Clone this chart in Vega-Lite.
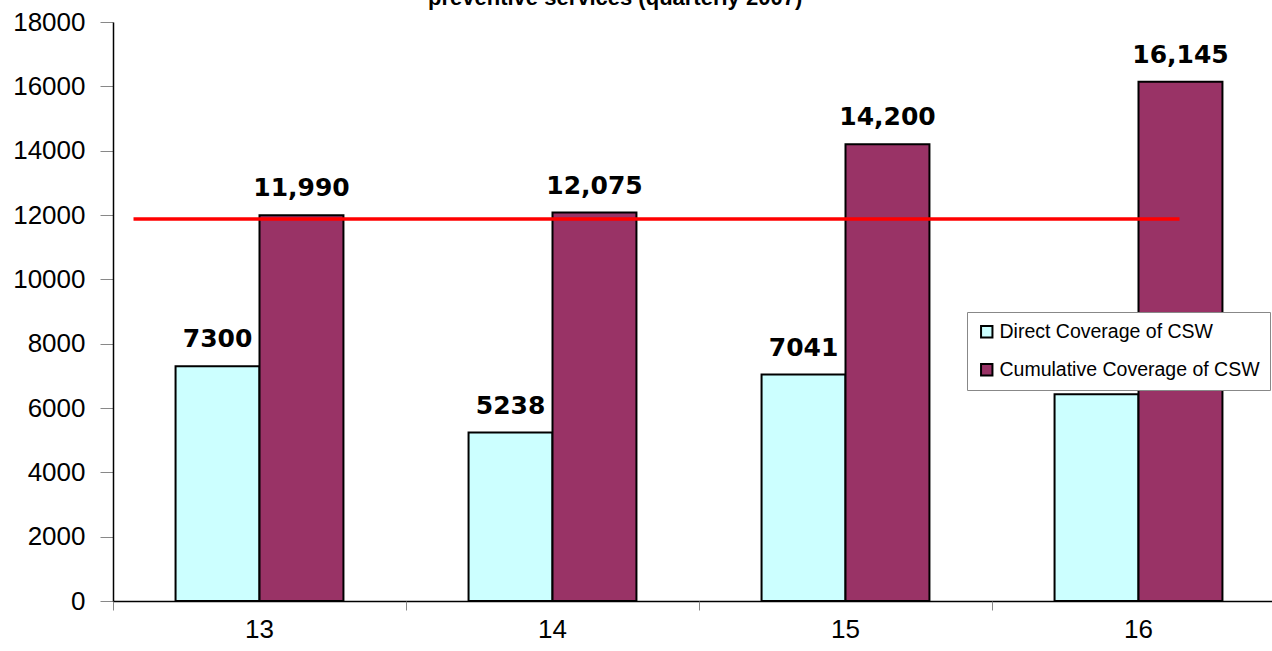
{
  "$schema": "https://vega.github.io/schema/vega-lite/v6.json",
  "autosize": {"type": "none"},
  "width": 1159,
  "height": 579,
  "padding": {"left": 113, "top": 22, "right": 0, "bottom": 50},
  "background": "white",
  "config": {"view": {"stroke": null}, "font": "Liberation Sans"},
  "title": {
    "text": "preventive services (quarterly 2007)",
    "font": "Liberation Sans",
    "fontSize": 22,
    "fontWeight": "bold",
    "anchor": "start",
    "frame": "group",
    "dx": 315,
    "offset": -18,
    "baseline": "alphabetic",
    "color": "black"
  },
  "datasets": {
    "bars": [
      {"period": "13", "series": "Direct Coverage of CSW", "value": 7300},
      {"period": "13", "series": "Cumulative Coverage of CSW", "value": 11990},
      {"period": "14", "series": "Direct Coverage of CSW", "value": 5238},
      {"period": "14", "series": "Cumulative Coverage of CSW", "value": 12075},
      {"period": "15", "series": "Direct Coverage of CSW", "value": 7041},
      {"period": "15", "series": "Cumulative Coverage of CSW", "value": 14200},
      {"period": "16", "series": "Direct Coverage of CSW", "value": 6430},
      {"period": "16", "series": "Cumulative Coverage of CSW", "value": 16145}
    ],
    "target": [
      {"start": 12.57, "end": 16.14, "target": 11875}
    ],
    "bounds": [
      {"edge": 12.5}, {"edge": 13.5}, {"edge": 14.5}, {"edge": 15.5}, {"edge": 16.5}
    ]
  },
  "layer": [
    {
      "data": {"name": "bars"},
      "layer": [
        {
          "mark": {"type": "bar", "stroke": "black", "strokeWidth": 2},
          "encoding": {
            "x": {
              "field": "period", "type": "nominal",
              "scale": {"domain": ["13", "14", "15", "16"], "range": [0, 1172], "paddingInner": 0.427, "paddingOuter": 0.2135},
              "axis": {
                "orient": "bottom",
                "title": null, "labelAngle": 0, "labelFontSize": 26, "labelFont": "Liberation Sans", "labelColor": "black",
                "domainColor": "black", "domainWidth": 1.5, "ticks": false, "tickSize": 9,
                "labelPadding": 15, "grid": false
              }
            },
            "xOffset": {
              "field": "series", "type": "nominal",
              "sort": ["Direct Coverage of CSW", "Cumulative Coverage of CSW"],
              "scale": {"domain": ["Direct Coverage of CSW", "Cumulative Coverage of CSW"], "paddingInner": 0, "paddingOuter": 0}
            },
            "y": {
              "field": "value", "type": "quantitative",
              "scale": {"domain": [0, 18000], "nice": false},
              "axis": {
                "title": null, "values": [0, 2000, 4000, 6000, 8000, 10000, 12000, 14000, 16000, 18000], "format": "d",
                "labelFontSize": 26, "labelFont": "Liberation Sans", "labelColor": "black",
                "domainColor": "black", "domainWidth": 1.5, "tickColor": "#888888", "tickSize": 13, "labelPadding": 15, "grid": false
              }
            },
            "color": {
              "field": "series", "type": "nominal",
              "scale": {"domain": ["Direct Coverage of CSW", "Cumulative Coverage of CSW"], "range": ["#CCFFFF", "#993366"]},
              "legend": {
                "title": null, "orient": "none", "legendX": 854, "legendY": 290,
                "fillColor": "white", "strokeColor": "#888888", "padding": 10, "rowPadding": 17,
                "labelFontSize": 19.5, "labelFont": "Liberation Sans", "labelColor": "black", "labelLimit": 400,
                "symbolType": "square", "symbolSize": 130, "symbolStrokeColor": "black", "symbolStrokeWidth": 2, "labelOffset": 3
              }
            }
          }
        },
        {
          "transform": [{"filter": "datum.series == 'Direct Coverage of CSW' && datum.period != '16'"}],
          "mark": {"type": "text", "font": "DejaVu Sans", "fontWeight": "bold", "fontSize": 25, "baseline": "alphabetic", "dy": -19, "color": "black"},
          "encoding": {
            "x": {"field": "period", "type": "nominal"},
            "xOffset": {"field": "series", "type": "nominal", "sort": ["Direct Coverage of CSW", "Cumulative Coverage of CSW"]},
            "y": {"field": "value", "type": "quantitative"},
            "text": {"field": "value", "type": "quantitative", "format": "d"}
          }
        },
        {
          "transform": [{"filter": "datum.series == 'Cumulative Coverage of CSW'"}],
          "mark": {"type": "text", "font": "DejaVu Sans", "fontWeight": "bold", "fontSize": 25, "baseline": "alphabetic", "dy": -19, "color": "black"},
          "encoding": {
            "x": {"field": "period", "type": "nominal"},
            "xOffset": {"field": "series", "type": "nominal", "sort": ["Direct Coverage of CSW", "Cumulative Coverage of CSW"]},
            "y": {"field": "value", "type": "quantitative"},
            "text": {"field": "value", "type": "quantitative", "format": ","}
          }
        }
      ]
    },
    {
      "layer": [
        {
          "data": {"name": "bounds"},
          "mark": {"type": "tick", "opacity": 0},
          "encoding": {
            "x": {
              "field": "edge", "type": "quantitative",
              "scale": {"domain": [12.5, 16.5], "range": [0, 1172], "nice": false, "zero": false},
              "axis": {
                "orient": "bottom", "title": null, "labels": false, "domain": false, "grid": false,
                "values": [12.5, 13.5, 14.5, 15.5, 16.5],
                "tickColor": "#888888", "tickSize": 9, "tickWidth": 1
              }
            }
          }
        },
        {
          "data": {"name": "target"},
          "mark": {"type": "rule", "color": "#FF0000", "strokeWidth": 3.5},
          "encoding": {
            "x": {"field": "start", "type": "quantitative"},
            "x2": {"field": "end"},
            "y": {"field": "target", "type": "quantitative"}
          }
        }
      ]
    }
  ],
  "resolve": {"scale": {"x": "independent"}, "axis": {"x": "independent"}}
}
